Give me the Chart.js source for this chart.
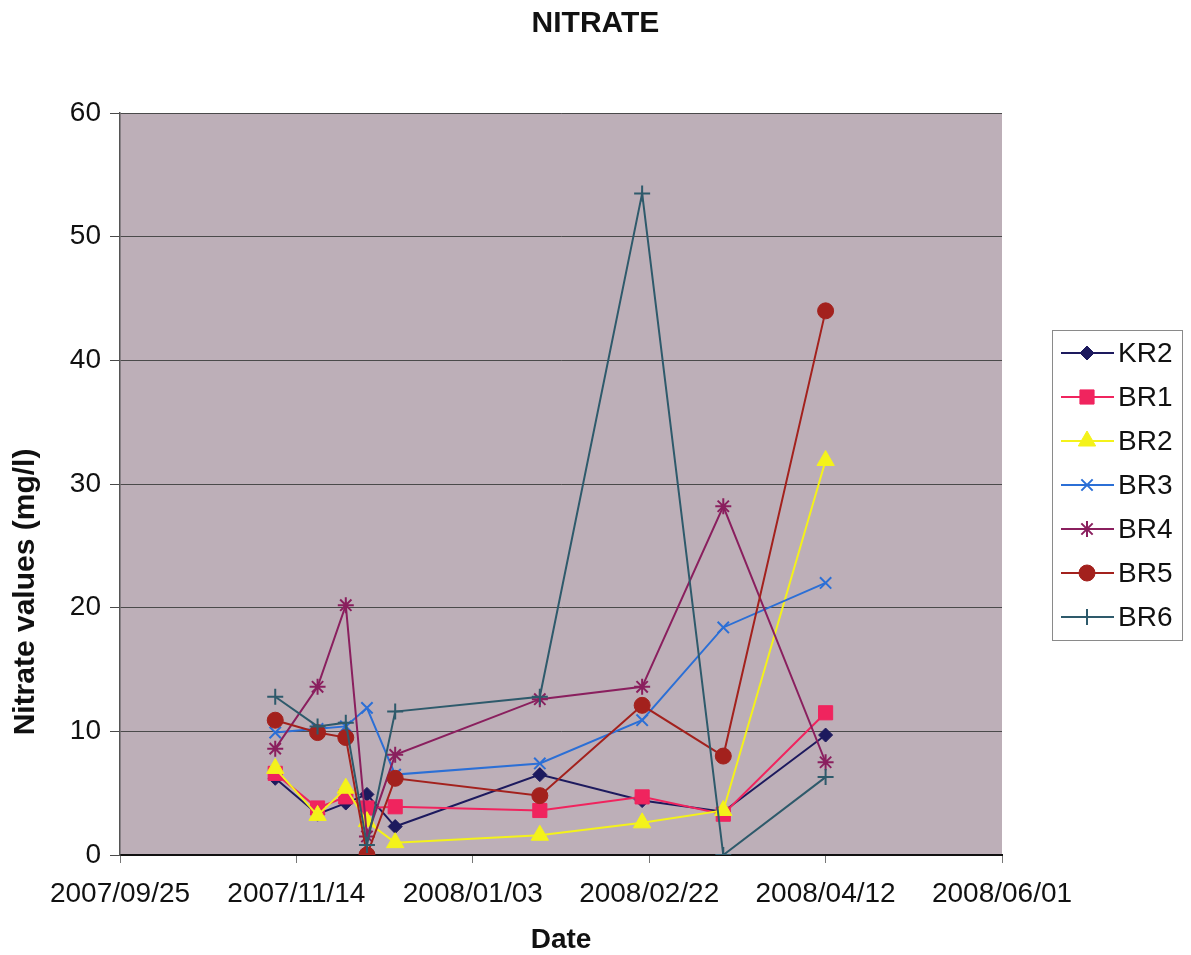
<!DOCTYPE html>
<html>
<head>
<meta charset="utf-8">
<title>NITRATE</title>
<script src="https://cdn.jsdelivr.net/npm/chart.js"></script>
<style>
  html, body { margin: 0; padding: 0; background: #ffffff; }
  #wrap { width: 1191px; height: 955px; }
</style>
</head>
<body>
<div id="wrap"><canvas id="chart" width="1191" height="955"></canvas></div>
<script>
// Sampling dates (yyyy/mm/dd) and nitrate readings in mg/l per well
const baseDate = '2007/09/25';
const sampleDates = ['2007/11/08', '2007/11/20', '2007/11/28', '2007/12/04', '2007/12/12',
                     '2008/01/22', '2008/02/20', '2008/03/14', '2008/04/12'];
const xTickLabels = ['2007/09/25', '2007/11/14', '2008/01/03', '2008/02/22', '2008/04/12', '2008/06/01'];
const seriesNames = ['KR2', 'BR1', 'BR2', 'BR3', 'BR4', 'BR5', 'BR6'];

const kr2 = [6.2, 3.3, 4.2, 4.9, 2.3, 6.5, 4.4, 3.5, 9.7];
const br1 = [6.6, 3.8, 4.7, 3.8, 3.9, 3.6, 4.7, 3.3, 11.5];
const br2 = [7.0, 3.2, 5.4, 2.7, 1.0, 1.6, 2.6, 3.6, 31.9];
const br3 = [9.9, 10.2, 10.4, 11.9, 6.5, 7.4, 10.9, 18.4, 22.0];
const br4 = [8.6, 13.6, 20.2, 1.5, 8.1, 12.6, 13.6, 28.2, 7.5];
const br5 = [10.9, 9.9, 9.5, 0.0, 6.2, 4.8, 12.1, 8.0, 44.0];
const br6 = [12.8, 10.4, 10.7, 0.8, 11.6, 12.8, 53.5, 0.0, 6.3];

const seriesValues = [kr2, br1, br2, br3, br4, br5, br6];
const seriesColors = ['#1d1a5e', '#f0245e', '#f4f21a', '#2b6fd6', '#8a1f5e', '#a3211d', '#2e5a6b'];
const seriesMarkers = ['rectRot', 'rect', 'triangle', 'crossRot', 'star', 'circle', 'cross'];
const markerRadius = [7, 10, 10, 8, 8, 8, 8];

const yTitle = 'Nitrate values (mg/l)';

// days elapsed since the axis origin date
function dayOffset(s) {
  const p = s.split('/').map(Number);
  const b = baseDate.split('/').map(Number);
  return Math.round((Date.UTC(p[0], p[1] - 1, p[2]) - Date.UTC(b[0], b[1] - 1, b[2])) / 86400000);
}
const xDays = sampleDates.map(dayOffset);
const xTickDays = xTickLabels.map(dayOffset);

const strokeOnly = ['crossRot', 'star', 'cross'];
const datasets = seriesNames.map((name, i) => ({
  label: name,
  data: seriesValues[i].map((v, k) => ({ x: xDays[k], y: v })),
  borderColor: seriesColors[i],
  backgroundColor: seriesColors[i],
  pointBackgroundColor: seriesColors[i],
  pointBorderColor: seriesColors[i],
  pointStyle: seriesMarkers[i],
  pointRadius: markerRadius[i],
  pointBorderWidth: strokeOnly.includes(seriesMarkers[i]) ? 2 : 1,
  borderWidth: 2,
  tension: 0,
  fill: false,
  order: seriesNames.length - i
}));

const FONT = "'Liberation Sans', Arial, Helvetica, sans-serif";

// shaded plotting area
const plotBackground = {
  id: 'plotBackground',
  beforeDraw(chart) {
    const a = chart.chartArea, ctx = chart.ctx;
    ctx.save();
    ctx.fillStyle = '#bdafb8';
    ctx.fillRect(a.left, a.top, a.right - a.left, a.bottom - a.top);
    ctx.restore();
  }
};

// rotated value-axis caption, sitting level with the lower half of the plot
const valueAxisCaption = {
  id: 'valueAxisCaption',
  afterDraw(chart) {
    const ctx = chart.ctx;
    ctx.save();
    ctx.translate(26, 592);
    ctx.rotate(-Math.PI / 2);
    ctx.fillStyle = '#111111';
    ctx.font = 'bold 30px ' + FONT;
    ctx.textAlign = 'center';
    ctx.textBaseline = 'middle';
    ctx.fillText(yTitle, 0, 0);
    ctx.restore();
  }
};

// boxed legend to the right of the plot, line plus marker per series
const sideLegend = {
  id: 'sideLegend',
  afterDraw(chart) {
    const ctx = chart.ctx;
    const box = { x: 1052, y: 330, w: 130, h: 310 };
    ctx.save();
    ctx.fillStyle = '#ffffff';
    ctx.fillRect(box.x, box.y, box.w, box.h);
    ctx.strokeStyle = '#8a8a8a';
    ctx.lineWidth = 1;
    ctx.strokeRect(box.x + 0.5, box.y + 0.5, box.w, box.h);
    chart.data.datasets.forEach((ds, i) => {
      const cy = 353 + i * 44;
      ctx.strokeStyle = ds.borderColor;
      ctx.lineWidth = 2;
      ctx.beginPath();
      ctx.moveTo(1061, cy);
      ctx.lineTo(1114, cy);
      ctx.stroke();
      const opts = {
        pointStyle: ds.pointStyle,
        radius: ds.pointRadius,
        rotation: 0,
        borderWidth: ds.pointBorderWidth
      };
      ctx.fillStyle = ds.pointBackgroundColor;
      ctx.strokeStyle = ds.pointBorderColor;
      ctx.lineWidth = ds.pointBorderWidth;
      Chart.helpers.drawPoint(ctx, opts, 1087, cy);
      ctx.fillStyle = '#111111';
      ctx.font = '28px ' + FONT;
      ctx.textAlign = 'left';
      ctx.textBaseline = 'middle';
      ctx.fillText(ds.label, 1118, cy + 1);
    });
    ctx.restore();
  }
};

new Chart(document.getElementById('chart'), {
  type: 'line',
  data: { datasets },
  options: {
    responsive: false,
    animation: false,
    events: [],
    layout: { padding: 0 },
    plugins: {
      legend: { display: false },
      tooltip: { enabled: false },
      title: {
        display: true,
        text: 'NITRATE',
        color: '#111111',
        font: { family: FONT, size: 30, weight: 'bold', lineHeight: 1.2 },
        padding: { top: 6, bottom: 71 }
      }
    },
    scales: {
      x: {
        type: 'linear',
        min: 0,
        max: 250,
        afterBuildTicks(scale) {
          scale.ticks = xTickDays.map(v => ({ value: v }));
        },
        afterFit(scale) { scale.height = 100; },
        ticks: {
          color: '#111111',
          font: { family: FONT, size: 28 },
          padding: 14,
          maxRotation: 0,
          autoSkip: false,
          callback(value) {
            const idx = xTickDays.indexOf(value);
            return idx >= 0 ? xTickLabels[idx] : '';
          }
        },
        grid: {
          drawOnChartArea: false,
          drawTicks: true,
          tickLength: 8,
          color: '#777777'
        },
        border: { display: true, color: '#111111', width: 2 },
        title: {
          display: true,
          text: 'Date',
          color: '#111111',
          font: { family: FONT, size: 28, weight: 'bold', lineHeight: 1.0 },
          padding: { top: 0, bottom: 1 }
        }
      },
      y: {
        min: 0,
        max: 60,
        afterFit(scale) { scale.width = 120; },
        ticks: {
          stepSize: 10,
          color: '#111111',
          font: { family: FONT, size: 28 },
          padding: 9
        },
        grid: {
          color: '#4a4a4a',
          lineWidth: 1,
          drawTicks: true,
          tickLength: 10
        },
        border: { display: true, color: '#555555', width: 1.5 },
        title: { display: false }
      },
      // empty right-hand band that holds the legend
      legendBand: {
        type: 'linear',
        position: 'right',
        min: 0,
        max: 1,
        afterFit(scale) { scale.width = 189; },
        ticks: { display: false },
        grid: { display: false, drawTicks: false },
        border: { display: false }
      }
    }
  },
  plugins: [plotBackground, valueAxisCaption, sideLegend]
});
</script>
</body>
</html>
